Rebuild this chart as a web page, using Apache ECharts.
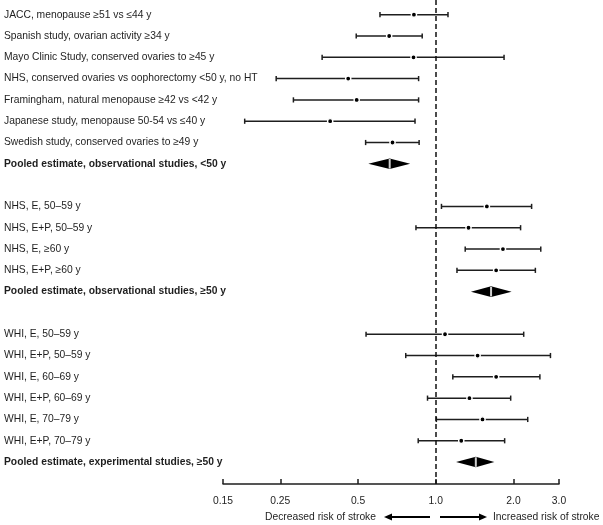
<!DOCTYPE html>
<html><head><meta charset="utf-8">
<script src="https://cdn.jsdelivr.net/npm/echarts@6/dist/echarts.min.js"></script>
<style>html,body{margin:0;padding:0;background:#fff}#c{width:603px;height:525px}</style>
</head><body><div id="c"></div>
<script>
// ---- data ----
const rowLabels = [
  'JACC, menopause ≥51 vs ≤44 y',
  'Spanish study, ovarian activity ≥34 y',
  'Mayo Clinic Study, conserved ovaries to ≥45 y',
  'NHS, conserved ovaries vs oophorectomy <50 y, no HT',
  'Framingham, natural menopause ≥42 vs <42 y',
  'Japanese study, menopause 50-54 vs ≤40 y',
  'Swedish study, conserved ovaries to ≥49 y',
  'Pooled estimate, observational studies, <50 y',
  '',
  'NHS, E, 50–59 y',
  'NHS, E+P, 50–59 y',
  'NHS, E, ≥60 y',
  'NHS, E+P, ≥60 y',
  'Pooled estimate, observational studies, ≥50 y',
  '',
  'WHI, E, 50–59 y',
  'WHI, E+P, 50–59 y',
  'WHI, E, 60–69 y',
  'WHI, E+P, 60–69 y',
  'WHI, E, 70–79 y',
  'WHI, E+P, 70–79 y',
  'Pooled estimate, experimental studies, ≥50 y'
];
const pointEst = [0.823, 0.660, 0.820, 0.458, 0.494, 0.390, 0.680, 0.663, null,
  1.577, 1.339, 1.82, 1.713, 1.637, null,
  1.086, 1.452, 1.713, 1.35, 1.517, 1.255, 1.429];
const lowerCI = [0.608, 0.492, 0.363, 0.241, 0.281, 0.182, 0.535, 0.548, null,
  1.052, 0.838, 1.30, 1.208, 1.368, null,
  0.537, 0.765, 1.164, 0.929, 1.005, 0.855, 1.198];
const upperCI = [1.115, 0.886, 1.838, 0.858, 0.858, 0.831, 0.862, 0.796, null,
  2.35, 2.13, 2.55, 2.43, 1.966, null,
  2.19, 2.78, 2.53, 1.95, 2.27, 1.848, 1.686];
const isPooled = [0,0,0,0,0,0,0,1,0, 0,0,0,0,1,0, 0,0,0,0,0,0,1];
const tickValues = [0.15, 0.25, 0.5, 1.0, 2.0, 3.0];
const tickLabels = ['0.15', '0.25', '0.5', '1.0', '2.0', '3.0'];
const refValue = 1.0;
const leftNote = 'Decreased risk of stroke';
const rightNote = 'Increased risk of stroke';

// ---- build ----
const items = [];
rowLabels.forEach((lab, i) => {
  if (pointEst[i] != null) items.push([pointEst[i], i, lowerCI[i], upperCI[i], isPooled[i]]);
});
const FONT = '"Liberation Sans", Arial, Helvetica, sans-serif';
const FS = '10.3px ';
const INK = '#1e1e1e';

const chart = echarts.init(document.getElementById('c'), null, {renderer: 'canvas'});
chart.setOption({
  animation: false,
  backgroundColor: '#fff',
  grid: {left: 223, right: 44, top: 0, bottom: 41, containLabel: false},
  xAxis: {
    type: 'log', logBase: 10, min: 0.15, max: 3.0,
    axisLine: {show: true, onZero: false, lineStyle: {color: INK, width: 1.5}},
    axisTick: {show: true, inside: true, length: 5, customValues: tickValues, lineStyle: {color: INK, width: 1.5}},
    axisLabel: {
      customValues: tickValues, margin: 12, fontSize: 10.3, fontFamily: FONT, color: INK,
      formatter: v => { let b = 0; tickValues.forEach((t, k) => { if (Math.abs(Math.log(t / v)) < Math.abs(Math.log(tickValues[b] / v))) b = k; }); return tickLabels[b]; }
    },
    splitLine: {show: false}, minorTick: {show: false}
  },
  yAxis: {
    type: 'value', inverse: true, min: -0.69, max: 22.03,
    show: false, splitLine: {show: false}
  },
  series: [
    {
      type: 'line', data: [], silent: true,
      markLine: {
        silent: true, symbol: ['none', 'none'], label: {show: false},
        lineStyle: {type: [5, 3], color: '#111', width: 1.5},
        data: [{xAxis: refValue}]
      }
    },
    {
      type: 'custom', data: items, silent: true,
      encode: {x: [0, 2, 3], y: 1},
      renderItem: (params, api) => {
        const est = api.value(0), row = api.value(1), lo = api.value(2), hi = api.value(3), pooled = api.value(4);
        const pE = api.coord([est, row]);
        const pL = api.coord([lo, row]);
        const pH = api.coord([hi, row]);
        const y = pE[1];
        const ch = [];
        ch.push({type: 'text', style: {x: 4, y: y, text: rowLabels[row], fill: INK,
          font: (pooled ? 'bold ' : '') + FS + FONT, verticalAlign: 'middle', textAlign: 'left'}});
        if (pooled) {
          ch.push({type: 'polygon', shape: {points: [[pL[0], y], [pE[0], y - 5.3], [pH[0], y], [pE[0], y + 5.3]]},
            style: {fill: '#000'}});
          ch.push({type: 'rect', shape: {x: pE[0] - 1, y: y - 4.8, width: 2, height: 9.6}, style: {fill: '#d0d0d0'}});
        } else {
          ch.push({type: 'line', shape: {x1: pL[0], y1: y, x2: pH[0], y2: y}, style: {stroke: INK, lineWidth: 1.5}});
          ch.push({type: 'line', shape: {x1: pL[0], y1: y - 2.6, x2: pL[0], y2: y + 2.6}, style: {stroke: INK, lineWidth: 1.5}});
          ch.push({type: 'line', shape: {x1: pH[0], y1: y - 2.6, x2: pH[0], y2: y + 2.6}, style: {stroke: INK, lineWidth: 1.5}});
          ch.push({type: 'circle', shape: {cx: pE[0], cy: y, r: 2.6}, style: {fill: '#000', stroke: '#fff', lineWidth: 1.4}});
        }
        return {type: 'group', children: ch};
      }
    }
  ],
  graphic: [
    {type: 'text', x: 376, y: 517, style: {text: leftNote, font: FS + FONT, fill: INK, textAlign: 'right', verticalAlign: 'middle'}},
    {type: 'line', shape: {x1: 430, y1: 517, x2: 389, y2: 517}, style: {stroke: '#000', lineWidth: 2}},
    {type: 'polygon', shape: {points: [[384, 517], [392, 513.5], [392, 520.5]]}, style: {fill: '#000'}},
    {type: 'line', shape: {x1: 440, y1: 517, x2: 482, y2: 517}, style: {stroke: '#000', lineWidth: 2}},
    {type: 'polygon', shape: {points: [[487, 517], [479, 513.5], [479, 520.5]]}, style: {fill: '#000'}},
    {type: 'text', x: 493, y: 517, style: {text: rightNote, font: FS + FONT, fill: INK, textAlign: 'left', verticalAlign: 'middle'}}
  ]
});
</script>
</body></html>
